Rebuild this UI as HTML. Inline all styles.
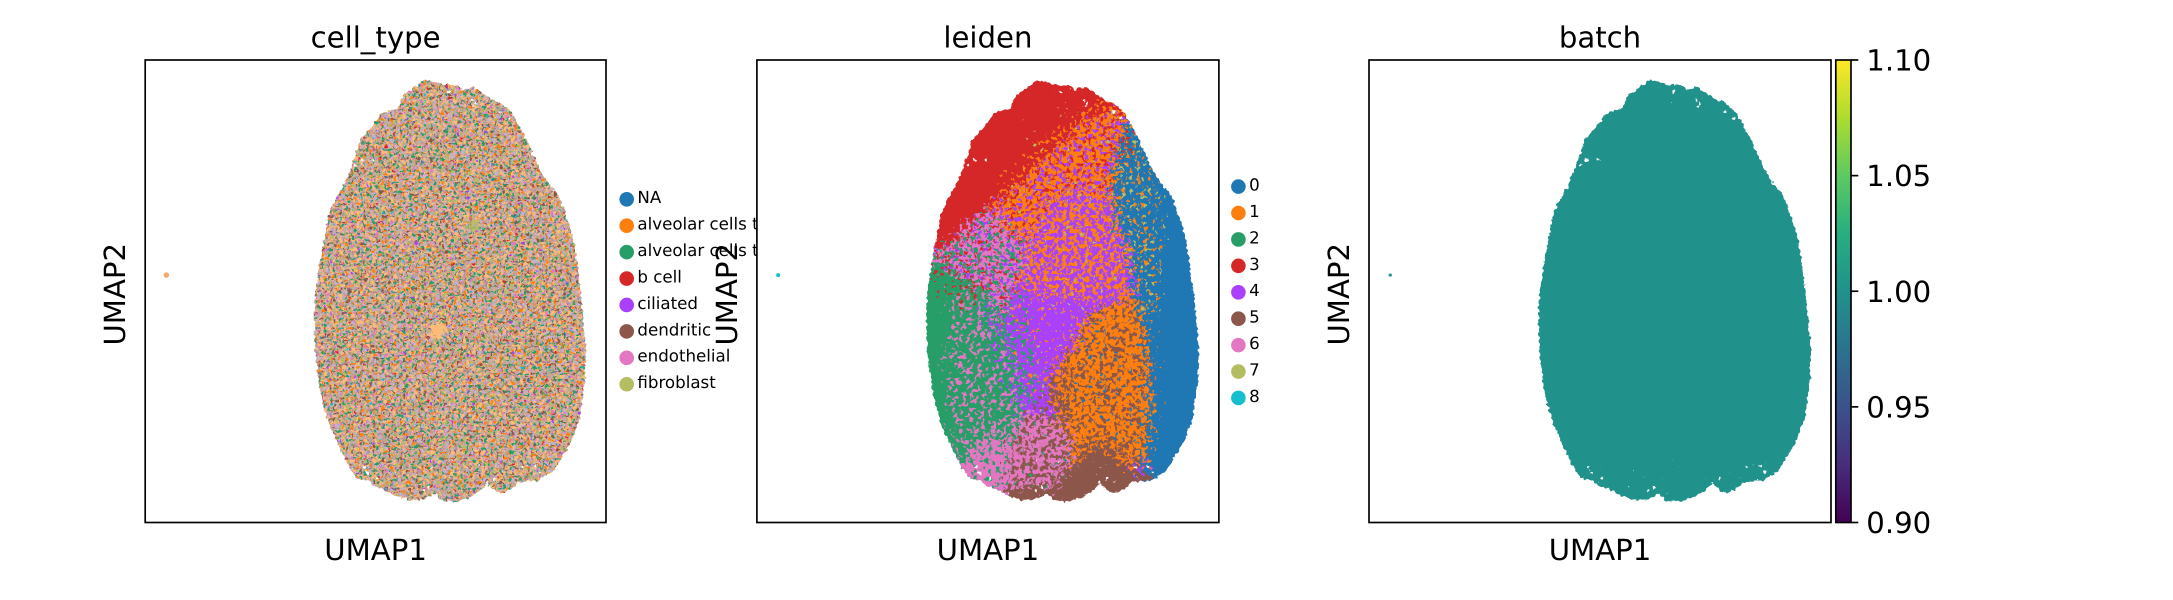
<!DOCTYPE html>
<html lang="en">
<head>
<meta charset="utf-8">
<title>UMAP panels: cell_type, leiden, batch</title>
<style>
html,body{margin:0;padding:0;background:#fff;width:2173px;height:600px;overflow:hidden}
svg{display:block}
text{font-family:"DejaVu Sans","Liberation Sans",sans-serif;fill:#000;text-rendering:geometricPrecision}
</style>
</head>
<body>
<svg id="figure" xmlns="http://www.w3.org/2000/svg" width="2173" height="600" viewBox="0 0 2173 600">
<rect x="0" y="0" width="2173" height="600" fill="#fff"/>
<defs id="defs">
<linearGradient id="viridis" x1="0" y1="1" x2="0" y2="0">
<stop offset="0" stop-color="#440154"/><stop offset=".125" stop-color="#472d7b"/><stop offset=".25" stop-color="#3b528b"/><stop offset=".375" stop-color="#2c728e"/><stop offset=".5" stop-color="#21918c"/><stop offset=".625" stop-color="#28ae80"/><stop offset=".75" stop-color="#5ec962"/><stop offset=".875" stop-color="#addc30"/><stop offset="1" stop-color="#fde725"/>
</linearGradient>
</defs>
</svg>
<script>
// UMAP axes carry no ticks in the source, so coordinates are relative units (0-100).
const xDomain = [0, 100];
const yDomain = [0, 100];

const umapOutline = [[37.0,50.2],[37.7,55.3],[38.5,59.6],[39.2,63.2],[39.9,66.8],[41.0,69.3],[42.1,71.1],[43.2,73.3],[44.6,76.6],[45.7,79.8],[46.8,83.0],[48.9,85.2],[51.4,88.5],[54.7,89.5],[56.1,92.4],[58.7,94.2],[60.8,95.7],[62.6,95.3],[65.2,94.6],[67.7,94.6],[68.8,93.5],[71.0,94.2],[73.1,92.8],[75.3,91.4],[77.4,90.6],[79.6,88.5],[81.4,85.2],[82.8,82.7],[84.3,79.1],[85.7,76.2],[87.5,73.3],[89.7,70.8],[91.1,66.8],[92.6,62.5],[93.4,58.2],[94.4,50.2],[95.1,43.7],[95.6,37.9],[95.5,31.5],[94.4,22.8],[92.6,17.8],[90.4,14.1],[88.6,11.2],[85.4,9.1],[81.0,8.7],[80.0,7.6],[77.4,6.3],[76.0,6.9],[74.2,8.4],[72.7,6.9],[70.2,5.3],[66.6,4.4],[64.1,4.8],[63.0,6.2],[60.1,4.9],[57.2,4.9],[54.3,5.8],[51.8,7.3],[50.0,7.7],[48.2,9.1],[46.0,9.5],[43.9,12.7],[42.1,16.3],[39.9,21.3],[38.5,25.7],[37.7,30.0],[37.0,35.8],[36.7,40.8],[36.7,46.3]];
const isolatedCell = [4.6, 53.5];
const outlineGaps = [[70.9,91.3],[71.6,90.6],[71.2,90.0],[65.9,93.1],[77.1,88.8],[78.9,87.4],[49.6,78.4],[45.7,77.3],[47.1,78.4],[86.7,74.7],[60.5,6.9],[61.6,7.6],[74.2,8.7],[75.8,9.5],[85.7,10.9],[81.8,12],[84.6,12.3],[50.4,9.5],[47.5,12],[48.2,10.7]];

// Thinly populated zones where the white background shows between cells: share = estimated empty fraction.
const sparseZoneBottom = [[44,4],[92,4],[92,14],[44,14]];
const sparseZoneTop = [[62,86],[84,86],[84,97],[62,97]];
const sparseZoneAll = [[0,0],[100,0],[100,100],[0,100]];
const sparseLayers = [
  {share:0.018, region:sparseZoneBottom},
  {share:0.012, region:sparseZoneTop},
  {share:0.002, region:sparseZoneAll}
];

const cellTypeLabels = ["NA","alveolar cells type 1","alveolar cells type 2","b cell","ciliated","dendritic","endothelial","fibroblast"];
const leidenLabels = ["0","1","2","3","4","5","6","7","8"];
const colorbarTicks = [0.90, 0.95, 1.00, 1.05, 1.10];
const colorbarDomain = [0.90, 1.10];
const batchValue = 1.00;

// Share of cells per mosaic category in the cell_type panel.
const cellTypeShares = [0.34,0.30,0.36,0.20,0.26,0.16,0.12,0.10,0.07,0.035,0.03,0.025,0.02];
const starPatch = [[63.5,43.5],[65,42.6],[65.8,41.6],[64.6,40.8],[64.3,39.6],[63,40.2],[61.6,40],[62.2,41.4],[61.2,42.4],[62.6,42.7]];
const olivePatch = [[70,65],[72,66],[72.5,63.5],[70.5,62.8]];

// Hand-traced cluster territories for the leiden panel.
const regionRed = [[30,58],[37,58.5],[42,60],[47.2,66.1],[50.8,67.6],[53.7,71.2],[58,73.3],[61.6,78.4],[65.9,81.3],[69.5,85.6],[73.1,87.8],[76.7,89.6],[80.4,87],[82,100],[30,100]];
const regionBlue = [[80.4,87],[77.5,79.8],[76.8,72.6],[77.5,65.4],[80.4,58.2],[81.5,49.2],[83.3,44.1],[84.7,33.3],[84.7,22.5],[84,13.8],[83.3,11],[83.3,5],[100,5],[100,95],[80.4,95]];
const regionGreen = [[30,57.5],[37,57.5],[42,55],[46,52],[50.8,50],[53,44],[55,36.9],[57.3,29.7],[57.3,22.5],[55.1,17.4],[43.9,12.4],[30,12.4]];
const regionPink = [[30,12.4],[43.9,12.4],[50.8,19.6],[55.1,17.4],[53.5,7.5],[50,0],[30,0]];
const regionPinkBrown = [[55.1,17.4],[57.3,22.5],[59.4,23.9],[65.2,22.5],[68.1,17.4],[68.1,12.4],[64.5,8.8],[64.5,5],[63,0],[53,0],[53.5,7.5]];
const regionBrownMain = [[68.1,12.4],[72.4,15.3],[75.3,16.7],[78.2,14.5],[80.4,11.6],[83.3,11],[88,8],[85,0],[64.5,0],[64.5,8.8]];
const regionBrownLeft = [[54.4,7],[60.2,8],[64.5,7],[64.5,0],[54,0]];
const regionOrangeLower = [[68.8,38.3],[71.7,45],[81.5,49.2],[83.3,44.1],[84.7,33.3],[84.7,22.5],[84,13.8],[80.4,11.6],[78.2,14.5],[75.3,16.7],[72.4,15.3],[68.1,12.4],[68.1,17.4],[65.2,22.5],[63,29.7],[66,35]];
const regionPurple = [[55.8,50.3],[58.7,61.8],[63,69],[70.3,72.6],[76.8,69],[77.5,65.4],[80.4,58.2],[81.5,49.2],[71.7,45],[68.8,38.3],[66,35],[63,29.7],[59.4,23.9],[57.3,29.7],[55,36.9],[53,44]];
const regionOrangeUpper = [[50.8,67.6],[53.7,71.2],[58,73.3],[61.6,78.4],[65.9,81.3],[69.5,85.6],[73.1,87.8],[76.7,89.6],[80.4,87],[77.5,79.8],[76.8,72.6],[77.5,65.4],[76.8,69],[70.3,72.6],[63,69],[58.7,61.8],[55,62]];
const regionPinkUpper = [[37,58.5],[42,60],[47.2,66.1],[50.8,67.6],[55,62],[58.7,61.8],[55.8,50.3],[53,44],[50.8,50],[46,52],[42,55],[37,57.5]];

const spreadOrangeFringe = [[50.8,67.6],[53.7,75],[58,78],[61.6,83],[66,86],[70,89],[76.7,92],[80.4,87],[70,72],[55,65]];
const spreadOliveTop = [[52,68],[75,72],[72,90],[58,88]];
const spreadPurpleUpper = [[55.8,50.3],[58.7,61.8],[63,69],[70.3,72.6],[76.8,69],[77.5,65.4],[80.4,58.2],[81.5,49.2],[71.7,48],[65,49]];
const spreadBlueBand = [[80.4,87],[77.5,79.8],[76.8,72.6],[77.5,65.4],[80.4,58.2],[81.5,49.2],[84,44],[86,44],[87,55],[88.5,66],[87,75],[84,84]];
const spreadBlueLower = [[83.3,44],[84.7,33],[84.7,22],[84,13],[86,13],[87,25],[87,40]];
const spreadRedOnBlue = [[77,80],[81,87],[84,84],[80,78]];
const spreadBrownOnPurple = [[59.4,23.9],[63,29.7],[66,35],[68,30],[69,22],[65.2,22.5]];
const spreadPinkOnGreen = [[42,50],[50.8,50],[53,44],[55,36.9],[57.3,29.7],[57.3,22.5],[55.1,17.4],[43.9,12.4],[42,20],[41,35]];
const spreadPurpleOnGreen = [[50.8,50],[53,44],[55,36.9],[57.3,29.7],[57.3,24],[53,30],[50,38],[48,46]];
const spreadGreenOnPurple = [[53,44],[55,36.9],[57.3,29.7],[59.4,23.9],[62,32],[59,42],[58,50],[55.8,50.3]];
const spreadRedOnGreen = [[36,60],[50,62],[50,50],[44,46],[38,50]];
const spreadBrownOnOrangeFoot = [[68,12.4],[72,15],[75,16.7],[78,14.5],[80,11.6],[80,16],[75,19],[70,17]];

// cluster = legend label, share = estimated fraction of speckled cells
const leidenBaseLayers = [
  {cluster:"1", region:regionOrangeLower},
  {cluster:"3", region:regionRed},
  {cluster:"0", region:regionBlue},
  {cluster:"2", region:regionGreen},
  {cluster:"6", region:regionPink},
  {cluster:"6", region:regionPinkBrown},
  {cluster:"5", region:regionBrownMain},
  {cluster:"5", region:regionBrownLeft},
  {cluster:"4", region:regionPurple},
  {cluster:"1", region:regionOrangeUpper},
  {cluster:"6", region:regionPinkUpper}
];
const leidenSpeckleLayers = [
  {cluster:"1", share:0.18, region:spreadOrangeFringe},
  {cluster:"7", share:0.03, region:spreadOliveTop},
  {cluster:"3", share:0.30, region:regionOrangeUpper},
  {cluster:"4", share:0.30, region:regionOrangeUpper},
  {cluster:"7", share:0.04, region:regionOrangeUpper},
  {cluster:"1", share:0.48, region:spreadPurpleUpper},
  {cluster:"1", share:0.09, region:regionPurple},
  {cluster:"7", share:0.05, region:regionPurple},
  {cluster:"1", share:0.14, region:spreadBlueBand},
  {cluster:"7", share:0.10, region:spreadBlueBand},
  {cluster:"1", share:0.06, region:spreadBlueLower},
  {cluster:"3", share:0.20, region:spreadRedOnBlue},
  {cluster:"5", share:0.36, region:regionOrangeLower},
  {cluster:"0", share:0.06, region:regionOrangeLower},
  {cluster:"5", share:0.40, region:spreadBrownOnPurple},
  {cluster:"5", share:0.50, region:spreadBrownOnOrangeFoot},
  {cluster:"6", share:0.33, region:spreadPinkOnGreen},
  {cluster:"4", share:0.24, region:spreadPurpleOnGreen},
  {cluster:"2", share:0.28, region:spreadGreenOnPurple},
  {cluster:"3", share:0.14, region:spreadRedOnGreen},
  {cluster:"4", share:0.28, region:regionPinkUpper},
  {cluster:"3", share:0.20, region:regionPinkUpper},
  {cluster:"2", share:0.30, region:regionPinkUpper},
  {cluster:"2", share:0.25, region:regionPink},
  {cluster:"5", share:0.45, region:regionPinkBrown},
  {cluster:"2", share:0.05, region:regionPinkBrown}
];

// ---- styling and layout below, no data ----
const PALETTE = ["#1f77b4","#ff7f0e","#279e68","#d62728","#aa40fc","#8c564b","#e377c2","#b5bd61","#17becf"];
const MOSAIC_BASE = "#bda8a0";
const MOSAIC_PALETTE = ["#ffbb78","#c49c94","#c5b0d5","#b5bd61","#ffbb78","#279e68","#ff7f0e","#8c564b","#e377c2","#d62728","#aa40fc","#17becf","#1f77b4"];
const PANELS = [
  {id:"cell-type", title:"cell_type", left:145.2, width:460.8},
  {id:"leiden", title:"leiden", left:756.9, width:462},
  {id:"batch", title:"batch", left:1369, width:462}
];
const TOP = 60, HEIGHT = 462.5, SPINE = 1.67;
const CB = {left:1835.8, width:15.2, tick:7.3, textGap:8};
const NS = "http://www.w3.org/2000/svg";
const svg = document.getElementById("figure");
const defs = document.getElementById("defs");

function el(tag, attrs, parent) {
  const n = document.createElementNS(NS, tag);
  for (const k in attrs) n.setAttribute(k, attrs[k]);
  (parent || svg).appendChild(n);
  return n;
}
function xScale(panel, x) { return panel.left + (x - xDomain[0]) / (xDomain[1] - xDomain[0]) * panel.width; }
function yScale(y) { return TOP + HEIGHT - (y - yDomain[0]) / (yDomain[1] - yDomain[0]) * HEIGHT; }
function cbScale(v) { return TOP + HEIGHT - (v - colorbarDomain[0]) / (colorbarDomain[1] - colorbarDomain[0]) * HEIGHT; }
function polyPoints(panel, pts) { return pts.map(p => xScale(panel, p[0]).toFixed(1) + "," + yScale(p[1]).toFixed(1)).join(" "); }

let seedCounter = 3;
function panelFilter(panel, id) {
  return el("filter", {id:id, filterUnits:"userSpaceOnUse", x:panel.left, y:TOP, width:panel.width, height:HEIGHT, "color-interpolation-filters":"sRGB"}, defs);
}
// edgeScatter > 0 scatters the region's border first, so the grain itself stays coarse and crisp.
function speckleFilter(panel, share, freq, edgeScatter) {
  const id = "speckle-" + (seedCounter++);
  const f = panelFilter(panel, id);
  let source = "SourceGraphic";
  if (edgeScatter) {
    el("feTurbulence", {type:"fractalNoise", baseFrequency:0.3, numOctaves:1, seed:seedCounter * 3, result:"e"}, f);
    el("feDisplacementMap", {in:"SourceGraphic", in2:"e", scale:edgeScatter, xChannelSelector:"R", yChannelSelector:"G", result:"shape"}, f);
    source = "shape";
  }
  el("feTurbulence", {type:"fractalNoise", baseFrequency:freq, numOctaves:1, seed:seedCounter * 7, result:"n"}, f);
  const t = 0.5 + 0.105 * Math.log((1 - share) / share) / 1.7;
  const k = 26;
  el("feColorMatrix", {in:"n", type:"matrix", values:"0 0 0 0 0 0 0 0 0 0 0 0 0 0 0 " + k + " 0 0 0 " + (-k * t).toFixed(3), result:"a"}, f);
  el("feComposite", {in:source, in2:"a", operator:"in"}, f);
  return id;
}
function displaceFilter(panel, id, freq, scale) {
  const f = panelFilter(panel, id);
  el("feTurbulence", {type:"fractalNoise", baseFrequency:freq, numOctaves:1, seed:23, result:"n"}, f);
  el("feDisplacementMap", {in:"SourceGraphic", in2:"n", scale:scale, xChannelSelector:"R", yChannelSelector:"G"}, f);
  return id;
}

function drawAxes(panel) {
  const bg = el("rect", {x:panel.left, y:TOP, width:panel.width, height:HEIGHT, fill:"#fff"});
  
  
}
function drawFrameAndLabels(panel) {
  const frame = el("rect", {x:panel.left, y:TOP, width:panel.width, height:HEIGHT, fill:"none", stroke:"#000", "stroke-width":SPINE});
  
  
  const cx = panel.left + panel.width / 2;
  const title = el("text", {x:cx, y:47.5, "text-anchor":"middle", "font-size":29.17});
  title.textContent = panel.title;
  
  
  const xl = el("text", {x:cx, y:560, "text-anchor":"middle", "font-size":29.17});
  xl.textContent = "UMAP1";
  
  
  const yx = panel.left - 20, yy = TOP + HEIGHT / 2 + 3;
  const yl = el("text", {x:yx, y:yy, "text-anchor":"middle", "font-size":29.17, transform:"rotate(-90 " + yx + " " + yy + ")"});
  yl.textContent = "UMAP2";
  
  
}
function startCloud(panel) {
  const clip = el("clipPath", {id:"clip-" + panel.id}, defs);
  el("polygon", {points:polyPoints(panel, umapOutline)}, clip);
  const rough = el("g", {filter:"url(#" + displaceFilter(panel, "rough-" + panel.id, 0.3, 5) + ")"});
  
  
  const inner = el("g", {"clip-path":"url(#clip-" + panel.id + ")"}, rough);
  return {rough, inner};
}
function finishCloud(panel, cloud, colour, radius) {
  sparseLayers.forEach(layer => {
    const z = el("polygon", {points:polyPoints(panel, layer.region), fill:"#fff", filter:"url(#" + speckleFilter(panel, layer.share, 0.42, 0) + ")"}, cloud.rough);
    
    
  });
  outlineGaps.forEach(g => {
    const c = el("circle", {cx:xScale(panel, g[0]), cy:yScale(g[1]), r:1.3, fill:"#fff"}, cloud.rough);
    
    
  });
  const pt = el("circle", {cx:xScale(panel, isolatedCell[0]), cy:yScale(isolatedCell[1]), r:radius, fill:colour});
  
  
}
function drawLegend(labels, dotX, firstY, namePrefix) {
  labels.forEach((label, i) => {
    const y = firstY + i * 26.42;
    const dot = el("circle", {cx:dotX, cy:y, r:7.3, fill:PALETTE[i]});
    
    
    const t = el("text", {x:dotX + 10.7, y:y + 3.9, "font-size":16.67});
    t.textContent = label;
    
    
  });
}

/* panel 1: cell_type */
const p1 = PANELS[0];
drawAxes(p1);
const c1 = startCloud(p1);
const base1 = el("polygon", {points:polyPoints(p1, sparseZoneAll), fill:MOSAIC_BASE}, c1.inner);


cellTypeShares.forEach((share, i) => {
  const m = el("polygon", {points:polyPoints(p1, sparseZoneAll), fill:MOSAIC_PALETTE[i], filter:"url(#" + speckleFilter(p1, share, 0.33, 0) + ")"}, c1.inner);
  
  
});
const patches = el("g", {filter:"url(#" + displaceFilter(p1, "dither-patch", 0.35, 14) + ")"}, c1.inner);


const star = el("polygon", {points:polyPoints(p1, starPatch), fill:"#ffbb78"}, patches);


const olive = el("polygon", {points:polyPoints(p1, olivePatch), fill:"#b5bd61", opacity:0.7}, patches);


finishCloud(p1, c1, "#f9ab6e", 2.8);
drawFrameAndLabels(p1);
drawLegend(cellTypeLabels, 626.7, 199.3, "cell-type");

/* panel 2: leiden */
const p2 = PANELS[1];
drawAxes(p2);
const c2 = startCloud(p2);
// Base territories get a scattered border; the speckle layers scatter only their own borders and keep a coarse grain.
const scatter = el("g", {filter:"url(#" + displaceFilter(p2, "dither-leiden", 0.3, 46) + ")"}, c2.inner);


const under = el("polygon", {points:polyPoints(p2, sparseZoneAll), fill:PALETTE[4]}, scatter);


leidenBaseLayers.forEach(layer => {
  const b = el("polygon", {points:polyPoints(p2, layer.region), fill:PALETTE[leidenLabels.indexOf(layer.cluster)]}, scatter);
  
  
});
leidenSpeckleLayers.forEach(layer => {
  const s = el("polygon", {points:polyPoints(p2, layer.region), fill:PALETTE[leidenLabels.indexOf(layer.cluster)], filter:"url(#" + speckleFilter(p2, layer.share, 0.27, 46) + ")"}, c2.inner);
  
  
});
finishCloud(p2, c2, PALETTE[8], 2);
drawFrameAndLabels(p2);
drawLegend(leidenLabels, 1238.4, 186.6, "leiden");

/* panel 3: batch */
function viridisAt(v) {
  const t = (v - colorbarDomain[0]) / (colorbarDomain[1] - colorbarDomain[0]);
  return t <= 0.5 ? (t < 0.25 ? "#440154" : "#21918c") : (t < 0.75 ? "#21918c" : "#fde725");
}
const p3 = PANELS[2];
drawAxes(p3);
const c3 = startCloud(p3);
const batchColour = viridisAt(batchValue);
const fill3 = el("polygon", {points:polyPoints(p3, umapOutline), fill:batchColour}, c3.inner);


finishCloud(p3, c3, batchColour, 1.6);
drawFrameAndLabels(p3);

const bar = el("rect", {x:CB.left, y:TOP, width:CB.width, height:HEIGHT, fill:"url(#viridis)", stroke:"#000", "stroke-width":SPINE});


colorbarTicks.forEach(v => {
  const y = cbScale(v);
  const tick = el("line", {x1:CB.left + CB.width, x2:CB.left + CB.width + CB.tick, y1:y, y2:y, stroke:"#000", "stroke-width":SPINE});
  
  
  const lab = el("text", {x:CB.left + CB.width + CB.tick + CB.textGap, y:y + 10.6, "font-size":29.17});
  lab.textContent = v.toFixed(2);
  
  
});
</script>
</body>
</html>
